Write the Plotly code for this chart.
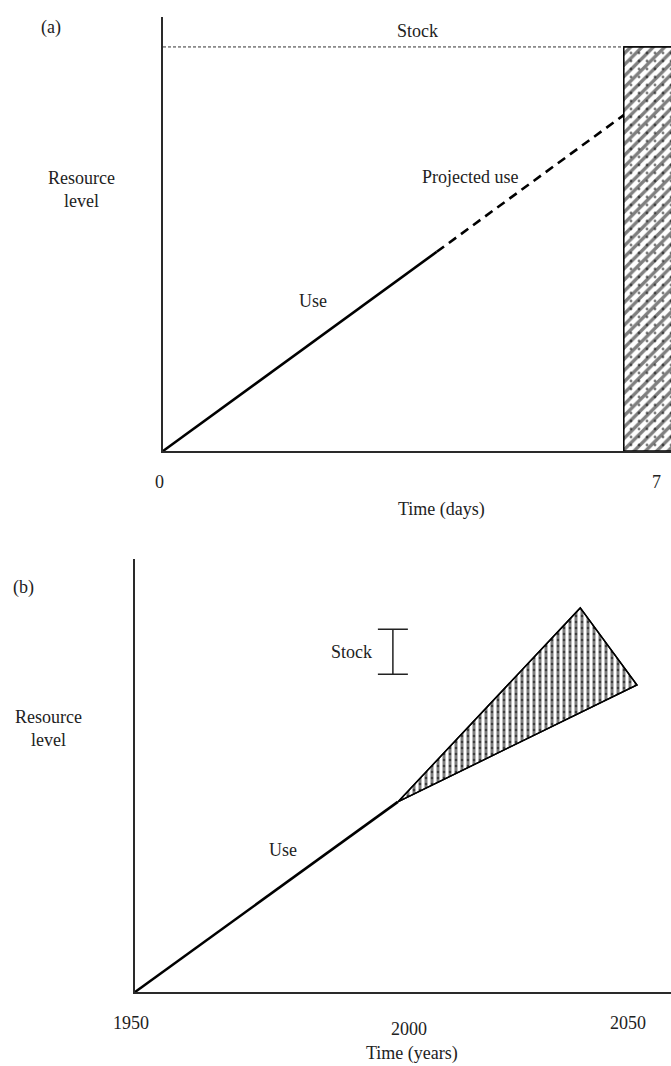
import plotly.graph_objects as go

# ---------------- data ----------------
# Panel (a): time in days, resource level (arbitrary units 0-100)
days_use = [0, 3.88]
level_use_a = [0, 45.9]
days_proj = [3.88, 6.53]
level_proj_a = [45.9, 77.4]
days_stock = [0, 6.53]
level_stock_a = [93.1, 93.1]
hatch_days = [6.53, 6.53, 7.3, 7.3, 6.53]
hatch_level = [0, 93.1, 93.1, 0, 0]
ticks_a = [0, 7]
ticktext_a = ["0", "7"]

# Panel (b): time in years, resource level
years_use = [1950, 2003.3]
level_use_b = [0, 43.9]
fan_years = [2003.3, 2040.3, 2051.8, 2003.3]
fan_level = [43.9, 88.7, 70.9, 43.9]
stock_year = [2002.3]
stock_mid = [78.6]
stock_half = [5.2]
ticks_b = [1950, 2000, 2050]
ticktext_b = ["1950", "2000", "2050"]

W, H = 671, 1066
FONT = "Liberation Serif"
FS = 18
TXT = "#222222"

def py(p):
    return 1 - p / H

fig = go.Figure()

# ---- panel (a) ----
fig.add_trace(go.Scatter(x=hatch_days, y=hatch_level, mode="lines", fill="toself",
                         line=dict(color="black", width=1.2), fillcolor="white",
                         fillpattern=dict(shape="/", size=8, solidity=0.42, fgcolor="black", bgcolor="white"),
                         xaxis="x", yaxis="y", hoverinfo="skip", showlegend=False))
fig.add_trace(go.Scatter(x=hatch_days, y=hatch_level, mode="lines", fill="toself",
                         line=dict(color="black", width=1.2), fillcolor="rgba(0,0,0,0)",
                         fillpattern=dict(shape=".", size=8, solidity=0.1, fgcolor="black", bgcolor="rgba(0,0,0,0)"),
                         xaxis="x", yaxis="y", hoverinfo="skip", showlegend=False))
fig.add_trace(go.Scatter(x=days_stock, y=level_stock_a, mode="lines",
                         line=dict(color="#333333", width=1, dash="3px,2px"),
                         xaxis="x", yaxis="y", hoverinfo="skip", showlegend=False))
fig.add_trace(go.Scatter(x=days_use, y=level_use_a, mode="lines",
                         line=dict(color="black", width=2.6),
                         xaxis="x", yaxis="y", hoverinfo="skip", showlegend=False))
fig.add_trace(go.Scatter(x=days_proj, y=level_proj_a, mode="lines",
                         line=dict(color="black", width=2.6, dash="9px,6px"),
                         xaxis="x", yaxis="y", hoverinfo="skip", showlegend=False))

# ---- panel (b) ----
fig.add_trace(go.Scatter(x=fan_years, y=fan_level, mode="lines", fill="toself",
                         line=dict(color="black", width=1.4), fillcolor="white",
                         fillpattern=dict(shape="|", size=6, solidity=0.5, fgcolor="black", bgcolor="white"),
                         xaxis="x2", yaxis="y2", hoverinfo="skip", showlegend=False))
fig.add_trace(go.Scatter(x=fan_years, y=fan_level, mode="lines", fill="toself",
                         line=dict(color="black", width=1.4), fillcolor="rgba(0,0,0,0)",
                         fillpattern=dict(shape=".", size=6, solidity=0.15, fgcolor="black", bgcolor="rgba(0,0,0,0)"),
                         xaxis="x2", yaxis="y2", hoverinfo="skip", showlegend=False))
fig.add_trace(go.Scatter(x=years_use, y=level_use_b, mode="lines",
                         line=dict(color="black", width=2.6),
                         xaxis="x2", yaxis="y2", hoverinfo="skip", showlegend=False))
fig.add_trace(go.Scatter(x=stock_year, y=stock_mid, mode="markers",
                         marker=dict(size=1, color="rgba(0,0,0,0)"),
                         error_y=dict(type="data", array=stock_half, symmetric=True,
                                      color="#222222", thickness=1.5, width=15),
                         xaxis="x2", yaxis="y2", hoverinfo="skip", showlegend=False))

ax_common = dict(showline=True, linecolor="#2a2a2a", linewidth=1.6, showgrid=False,
                 zeroline=False, showticklabels=False, ticks="", fixedrange=True)

fig.update_layout(
    width=W, height=H,
    margin=dict(l=0, r=0, t=0, b=0),
    paper_bgcolor="white", plot_bgcolor="white",
    font=dict(family=FONT, size=FS, color=TXT),
    xaxis=dict(domain=[163 / W, 1], range=[0, 7.2], anchor="y", **ax_common),
    yaxis=dict(domain=[py(451), py(17)], range=[0, 100], anchor="x", **ax_common),
    xaxis2=dict(domain=[135 / W, 1], range=[1950, 2058.7], anchor="y2", **ax_common),
    yaxis2=dict(domain=[py(992), py(559)], range=[0, 100], anchor="x2", **ax_common),
)

ann = []
def A(text, x, y, xref="paper", yref="paper", xanchor="center", xshift=0):
    ann.append(dict(text=text, x=x, y=y, xref=xref, yref=yref, showarrow=False,
                    xanchor=xanchor, yanchor="middle", xshift=xshift,
                    font=dict(family=FONT, size=FS, color=TXT)))

# panel (a) texts
A("(a)", 51 / W, py(28))
A("Resource<br>level", 81 / W, py(189))
A("Stock", 3.6, 96.8, "x", "y")
A("Projected use", 4.35, 63.1, "x", "y")
A("Use", 2.13, 34.5, "x", "y")
for v, t in zip(ticks_a, ticktext_a):
    A(t, v, py(482), "x", "paper", xshift=-4 if v == 0 else 0)
A("Time (days)", 441 / W, py(510))

# panel (b) texts
A("(b)", 23 / W, py(587))
A("Resource<br>level", 48 / W, py(728))
A("Stock", 1998.4, 78.6, "x2", "y2", xanchor="right")
A("Use", 1980, 32.8, "x2", "y2")
for v, t in zip(ticks_b, ticktext_b):
    A(t, v, py(1029 if v == 2000 else 1023), "x2", "paper", xshift=27 if v == 2000 else -4 if v == 1950 else 0)
A("Time (years)", 412 / W, py(1053))

fig.update_layout(annotations=ann)

fig.write_html("out.html", config={"displayModeBar": False},
               post_script="document.body.style.margin='0px';document.body.style.overflow='hidden';")
